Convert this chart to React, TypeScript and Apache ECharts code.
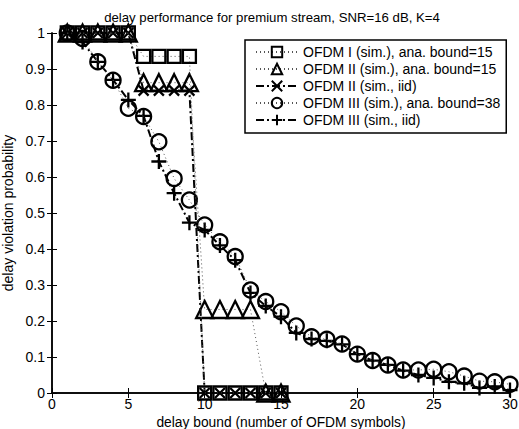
import React, { useEffect, useRef } from 'react';
import * as echarts from 'echarts';

const xShort = [1, 2, 3, 4, 5, 6, 7, 8, 9, 10, 11, 12, 13, 14, 15];
const xLong = [1, 2, 3, 4, 5, 6, 7, 8, 9, 10, 11, 12, 13, 14, 15, 16, 17, 18, 19, 20, 21, 22, 23, 24, 25, 26, 27, 28, 29, 30];

const ofdm1Ana = [1, 1, 1, 1, 1, 0.935, 0.935, 0.935, 0.935, 0, 0, 0, 0, 0, 0];
const ofdm2Ana = [1, 1, 1, 1, 1, 0.862, 0.862, 0.862, 0.862, 0.232, 0.232, 0.232, 0.232, 0, 0];
const ofdm2Iid = [1, 1, 1, 1, 1, 0.84, 0.84, 0.84, 0.84, 0, 0, 0, 0, 0, 0];
const ofdm3Ana = [1, 0.985, 0.92, 0.869, 0.791, 0.768, 0.698, 0.596, 0.536, 0.467, 0.42, 0.379, 0.286, 0.254, 0.226, 0.186, 0.156, 0.149, 0.136, 0.108, 0.09, 0.078, 0.064, 0.064, 0.066, 0.059, 0.047, 0.033, 0.031, 0.024];
const ofdm3Iid = [1, 0.975, 0.92, 0.87, 0.814, 0.77, 0.643, 0.555, 0.473, 0.453, 0.41, 0.369, 0.278, 0.242, 0.212, 0.167, 0.15, 0.145, 0.135, 0.108, 0.09, 0.078, 0.062, 0.05, 0.042, 0.031, 0.027, 0.014, 0.018, 0.008];

const seriesNames = [
  'OFDM I (sim.), ana. bound=15',
  'OFDM II (sim.), ana. bound=15',
  'OFDM II (sim., iid)',
  'OFDM III (sim.), ana. bound=38',
  'OFDM III (sim., iid)',
];

const titleText = 'delay performance for premium stream, SNR=16 dB, K=4';
const xName = 'delay bound (number of OFDM symbols)';
const yName = 'delay violation probability';

const FONT = '"Liberation Sans", Arial, Helvetica, sans-serif';

const pair = (xs: number[], ys: number[]) => ys.map((y, i) => [xs[i], y]);

export default function App() {
  const ref = useRef<HTMLDivElement>(null);
  useEffect(() => {
    if (!ref.current) return;
    const chart = echarts.init(ref.current, undefined, { renderer: 'svg' });
    const dotted = { type: [1, 3] as any, width: 1, color: '#555' };
    const dashDot = { type: [8, 3, 2, 3] as any, width: 2, color: '#000' };
    const hollow = { color: 'rgba(0,0,0,0)', borderColor: '#000', borderWidth: 2.3 };
    const axisCommon = {
      axisLine: { show: true, lineStyle: { color: '#000', width: 1.5 } },
      axisTick: { show: true, inside: true, length: 5, lineStyle: { color: '#000', width: 1 } },
      splitLine: { show: false },
    };
    chart.setOption({
      animation: false,
      backgroundColor: '#fff',
      textStyle: { fontFamily: FONT },
      grid: { left: 52, right: 9, top: 33, bottom: 36, containLabel: false, outerBoundsMode: 'none' },
      graphic: [
        {
          type: 'text',
          x: 272,
          y: 17,
          style: { text: titleText, fontFamily: FONT, fontSize: 13.2, fill: '#000', textAlign: 'center', textVerticalAlign: 'middle' },
        },
      ],
      legend: {
        orient: 'vertical',
        left: 245,
        top: 40,
        width: 256,
        padding: [5, 6, 6, 10],
        itemGap: 3,
        itemWidth: 42,
        itemHeight: 13,
        backgroundColor: '#fff',
        borderColor: '#000',
        borderWidth: 1.5,
        borderRadius: 0,
        textStyle: { fontFamily: FONT, fontSize: 14, color: '#000', padding: [0, 0, 0, 0] },
        data: seriesNames,
      },
      xAxis: [
        {
          type: 'value', min: 0, max: 30, interval: 5, position: 'bottom',
          name: xName, nameLocation: 'middle', nameGap: 16,
          nameTextStyle: { fontFamily: FONT, fontSize: 13.8, color: '#000', lineHeight: 14 },
          axisLabel: { fontFamily: FONT, fontSize: 14, color: '#000', margin: 4 },
          ...axisCommon,
        },
        {
          type: 'value', min: 0, max: 30, interval: 5, position: 'top',
          axisLabel: { show: false },
          ...axisCommon,
        },
      ],
      yAxis: [
        {
          type: 'value', min: 0, max: 1, interval: 0.1, position: 'left',
          name: yName, nameLocation: 'middle', nameGap: 25,
          nameTextStyle: { fontFamily: FONT, fontSize: 14, color: '#000' },
          axisLabel: { fontFamily: FONT, fontSize: 14, color: '#000', margin: 7, formatter: (v: number) => String(Math.round(v * 10) / 10) },
          ...axisCommon,
        },
        {
          type: 'value', min: 0, max: 1, interval: 0.1, position: 'right',
          axisLabel: { show: false },
          ...axisCommon,
        },
      ],
      series: [
        {
          name: seriesNames[0], type: 'line', data: pair(xShort, ofdm1Ana),
          symbol: 'rect', symbolSize: 13, lineStyle: dotted, itemStyle: hollow, z: 5,
        },
        {
          name: seriesNames[1], type: 'line', data: pair(xShort, ofdm2Ana),
          symbol: 'triangle', symbolSize: 17, lineStyle: dotted, itemStyle: hollow, z: 4,
        },
        {
          name: seriesNames[2], type: 'line', data: pair(xShort, ofdm2Iid),
          symbol: 'path://M0,0L10,10M10,0L0,10', symbolSize: 10, lineStyle: dashDot, itemStyle: hollow, z: 3,
        },
        {
          name: seriesNames[3], type: 'line', data: pair(xLong, ofdm3Ana),
          symbol: 'circle', symbolSize: 15, lineStyle: dotted, itemStyle: hollow, z: 2,
        },
        {
          name: seriesNames[4], type: 'line', data: pair(xLong, ofdm3Iid),
          symbol: 'path://M5,0L5,10M0,5L10,5', symbolSize: 15, lineStyle: dashDot, itemStyle: hollow, z: 1,
        },
      ],
    });
    return () => chart.dispose();
  }, []);
  return <div ref={ref} style={{ width: 519, height: 429, position: 'absolute', left: 0, top: 0 }} />;
}
